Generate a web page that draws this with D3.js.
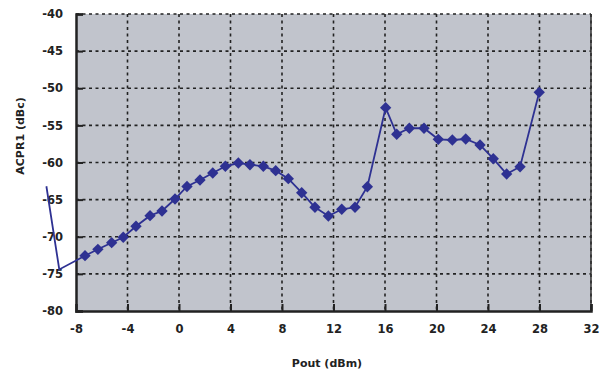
<!DOCTYPE html>
<html>
<head>
<meta charset="utf-8">
<script src="https://cdn.jsdelivr.net/npm/d3@7"></script>
<style>
  body { margin: 0; background: #fff; }
  text { font-family: "DejaVu Sans", Verdana, sans-serif; font-weight: bold; fill: #222; }
</style>
</head>
<body>
<script>
/*data*/
var pout = [-10.3, -9.3, -7.3, -6.3, -5.23, -4.33, -3.34, -2.25, -1.32, -0.31, 0.62, 1.63, 2.62, 3.6, 4.61, 5.51,
	6.55, 7.51, 8.49, 9.53, 10.56, 11.6, 12.64, 13.67, 14.63, 16.05, 16.91, 17.89, 19.03, 20.14, 21.23,
	22.27, 23.38, 24.41, 25.45, 26.49, 27.98];
var acpr = [-63.2, -74.4, -72.55, -71.69, -70.8, -70.07, -68.59, -67.16, -66.53, -64.92, -63.23, -62.36, -61.41, -60.51, -60.07, -60.3,
	-60.51, -61.1, -62.18, -64.07, -66.03, -67.21, -66.3, -66.03, -63.26, -52.62, -56.2, -55.39, -55.39, -56.88, -56.97,
	-56.84, -57.64, -59.49, -61.55, -60.57, -50.55];
var xTicks = [-8, -4, 0, 4, 8, 12, 16, 20, 24, 28, 32];
var yTicks = [-80, -75, -70, -65, -60, -55, -50, -45, -40];

var data = pout.map(function (d, i) { return {x: d, y: acpr[i]}; });

var svgWidth = 603, svgHeight = 375;
var margin = {top: 14, right: 12, bottom: 64, left: 76};
var width = svgWidth - margin.left - margin.right;
var height = svgHeight - margin.top - margin.bottom;

var svg = d3.select("body").append("svg")
	.attr("width", svgWidth)
	.attr("height", svgHeight);

var chartGroup = svg.append("g")
	.attr("transform", `translate(${margin.left}, ${margin.top})`);

var xLinearScale = d3.scaleLinear().domain([-8, 32]).range([0, width]);
var yLinearScale = d3.scaleLinear().domain([-80, -40]).range([height, 0]);

/*plot background*/
chartGroup.append("rect")
	.attr("width", width)
	.attr("height", height)
	.attr("fill", "#c1c4cc");

/*dashed grid lines*/
chartGroup.append("g").selectAll("line")
	.data(yTicks.slice(1))
	.enter().append("line")
	.attr("x1", 0).attr("x2", width)
	.attr("y1", d => yLinearScale(d)).attr("y2", d => yLinearScale(d))
	.attr("stroke", "#222").attr("stroke-width", 1.6)
	.attr("stroke-dasharray", "3,3.5");

chartGroup.append("g").selectAll("line")
	.data(xTicks.slice(1))
	.enter().append("line")
	.attr("y1", 0).attr("y2", height)
	.attr("x1", d => xLinearScale(d)).attr("x2", d => xLinearScale(d))
	.attr("stroke", "#222").attr("stroke-width", 1.6)
	.attr("stroke-dasharray", "3,3.5");

/*right border*/
chartGroup.append("line")
	.attr("x1", width).attr("x2", width)
	.attr("y1", 0).attr("y2", height)
	.attr("stroke", "#333").attr("stroke-width", 1.5);

/*axes with inner ticks, labels with plain hyphen minus*/
var bottomAxis = d3.axisBottom(xLinearScale).tickValues(xTicks).tickSize(-7).tickPadding(14).tickFormat(d => String(d));
var leftAxis = d3.axisLeft(yLinearScale).tickValues(yTicks).tickSize(-7).tickPadding(13).tickFormat(d => String(d));

var xAxis = chartGroup.append("g")
	.attr("transform", `translate(0, ${height})`)
	.call(bottomAxis);
var yAxis = chartGroup.append("g")
	.call(leftAxis);

[xAxis, yAxis].forEach(function (axis) {
	axis.select(".domain").attr("stroke", "#222").attr("stroke-width", 2.5);
	axis.selectAll(".tick line").attr("stroke", "#222").attr("stroke-width", 2);
	axis.selectAll(".tick text")
		.style("font-family", "'DejaVu Sans', Verdana, sans-serif")
		.style("font-weight", "bold")
		.style("font-size", "11.5px")
		.attr("fill", "#222");
});
xAxis.select(".tick line").remove();

/*series line and markers*/
var line = d3.line().x(d => xLinearScale(d.x)).y(d => yLinearScale(d.y));

chartGroup.append("path")
	.datum(data)
	.attr("d", line)
	.attr("fill", "none")
	.attr("stroke", "#2e3192")
	.attr("stroke-width", 1.8);

var diamond = d3.symbol().type(d3.symbolDiamond2).size(82);
chartGroup.selectAll(".marker")
	.data(data.filter(d => d.x >= -8))
	.enter().append("path")
	.attr("class", "marker")
	.attr("d", diamond)
	.attr("transform", d => `translate(${xLinearScale(d.x)}, ${yLinearScale(d.y)})`)
	.attr("fill", "#2e3192");

/*axis titles*/
svg.append("text")
	.attr("x", 327)
	.attr("y", 367)
	.attr("text-anchor", "middle")
	.style("font-size", "11px")
	.text("Pout (dBm)");

svg.append("text")
	.attr("transform", "translate(24, 136) rotate(-90)")
	.attr("text-anchor", "middle")
	.style("font-size", "11px")
	.text("ACPR1 (dBc)");
</script>
</body>
</html>
